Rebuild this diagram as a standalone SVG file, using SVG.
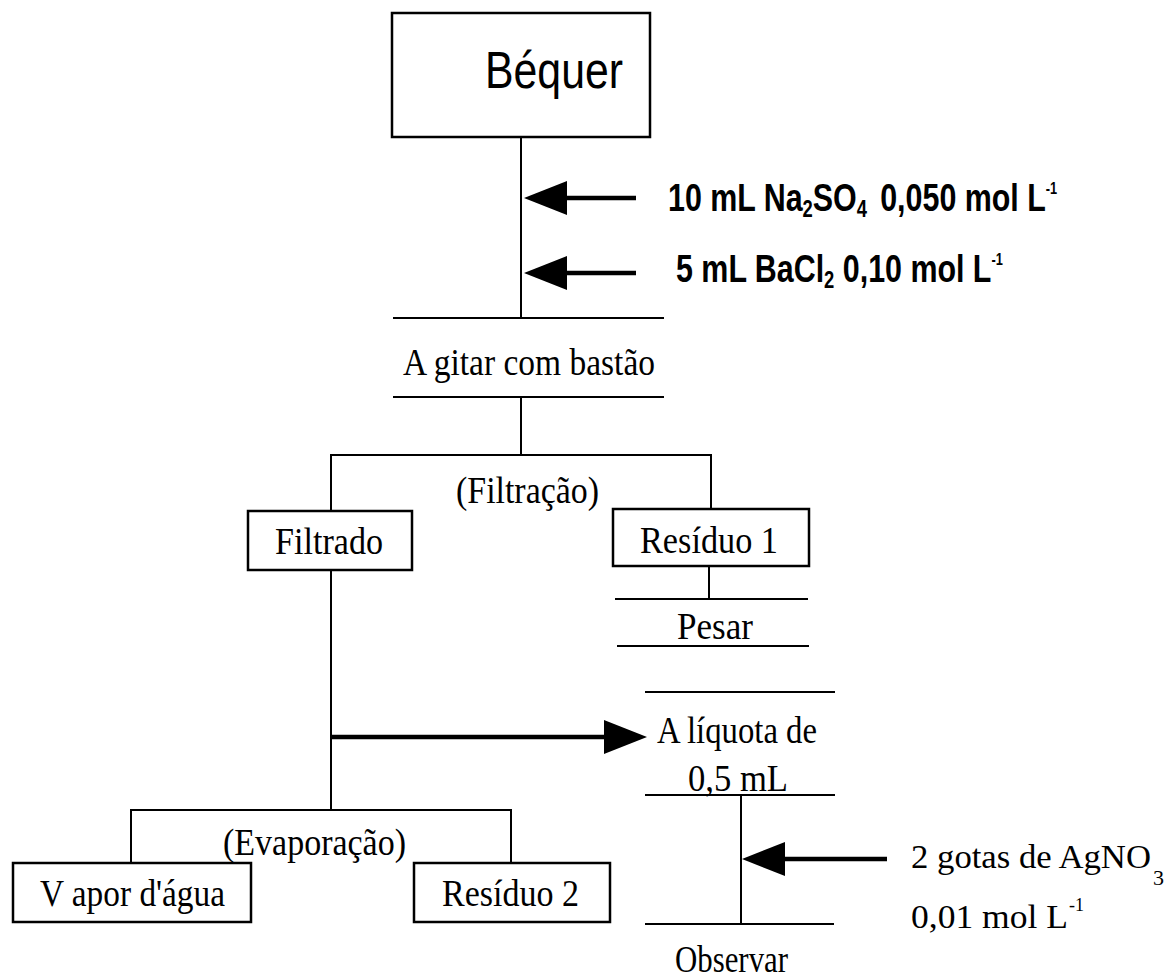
<svg xmlns="http://www.w3.org/2000/svg" width="1169" height="978" viewBox="0 0 1169 978">
<defs>
<style>
.box{fill:#fff;stroke:#000;stroke-width:2.5}
.ln{stroke:#000;stroke-width:2;fill:none}
.shaft{stroke:#000;stroke-width:4.5;fill:none}
.tm{font-family:"Liberation Serif","Times New Roman",serif;font-size:38px;fill:#000}
.ar{font-family:"Liberation Sans",Arial,sans-serif;font-size:52px;fill:#000}
.arb{font-family:"Liberation Sans",Arial,sans-serif;font-weight:bold;font-size:38px;fill:#000}
</style>
<path id="headL" d="M0,0 L43,-17 L43,17 Z" fill="#000"/>
</defs>
<rect width="1169" height="978" fill="#fff"/>

<g id="connectors">
<path class="ln" d="M521,137 V318"/>
<path class="ln" d="M521,397 V455"/>
<path class="ln" d="M331,511 V455 H711 V509"/>
<path class="ln" d="M331,553 V810"/>
<path class="ln" d="M131,863 V810 H511 V863"/>
<path class="ln" d="M709,553 V599"/>
<path class="ln" d="M741,795 V924"/>
<path class="shaft" d="M560,198 H636"/>
<use href="#headL" transform="translate(524,198)"/>
<path class="shaft" d="M560,273 H636"/>
<use href="#headL" transform="translate(524,273)"/>
<path class="shaft" d="M332,737 H610"/>
<use href="#headL" transform="translate(647,737) rotate(180)"/>
<path class="shaft" d="M780,859 H887"/>
<use href="#headL" transform="translate(742,859)"/>
</g>

<g id="node-bequer">
<rect class="box" x="392" y="13" width="258" height="124"/>
<text class="ar" x="485" y="88" textLength="138" lengthAdjust="spacingAndGlyphs">Béquer</text>
</g>

<g id="label-na2so4">
<text class="arb" transform="translate(668,211) scale(0.8,1)">10 mL Na<tspan font-size="23" dy="6">2</tspan><tspan dy="-6">SO</tspan><tspan font-size="23" dy="6">4</tspan><tspan dx="6" dy="-6"> 0,050 mol L</tspan><tspan font-size="16" dy="-17">-1</tspan></text>
</g>

<g id="label-bacl2">
<text class="arb" transform="translate(676,282) scale(0.8,1)">5 mL BaCl<tspan font-size="23" dy="6">2</tspan><tspan dy="-6"> 0,10 mol L</tspan><tspan font-size="16" dy="-17">-1</tspan></text>
</g>

<g id="node-agitar">
<path class="ln" d="M393,318 H664 M393,397 H664"/>
<text class="tm" x="403" y="375" textLength="252" lengthAdjust="spacingAndGlyphs">A gitar com bastão</text>
</g>

<g id="label-filtracao">
<text class="tm" x="456" y="503" textLength="143" lengthAdjust="spacingAndGlyphs">(Filtração)</text>
</g>

<g id="node-filtrado">
<rect class="box" x="248" y="511" width="164" height="59"/>
<text class="tm" x="275" y="554" textLength="108" lengthAdjust="spacingAndGlyphs">Filtrado</text>
</g>

<g id="node-residuo1">
<rect class="box" x="613" y="509" width="196" height="57"/>
<text class="tm" x="640" y="553" textLength="138" lengthAdjust="spacingAndGlyphs">Resíduo 1</text>
</g>

<g id="node-pesar">
<path class="ln" d="M615,599 H808 M617,646 H809"/>
<text class="tm" x="677" y="639" textLength="76" lengthAdjust="spacingAndGlyphs">Pesar</text>
</g>

<g id="node-aliquota">
<path class="ln" d="M645,692 H835 M645,795 H835"/>
<text class="tm" x="657" y="743" textLength="160" lengthAdjust="spacingAndGlyphs">A líquota de</text>
<text class="tm" x="688" y="791" textLength="100" lengthAdjust="spacingAndGlyphs">0,5 mL</text>
</g>

<g id="node-observar">
<path class="ln" d="M645,924 H834"/>
<text class="tm" x="675" y="972" textLength="113" lengthAdjust="spacingAndGlyphs">Observar</text>
</g>

<g id="label-agno3">
<text class="tm" x="911" y="868" style="font-size:34px" textLength="240" lengthAdjust="spacingAndGlyphs">2 gotas de AgNO</text>
<text class="tm" x="1153" y="885" style="font-size:22px">3</text>
<text class="tm" x="911" y="928" style="font-size:34px" textLength="157" lengthAdjust="spacingAndGlyphs">0,01 mol L</text>
<text class="tm" x="1069" y="911" style="font-size:18px">-1</text>
</g>

<g id="label-evaporacao">
<text class="tm" x="223" y="855" textLength="183" lengthAdjust="spacingAndGlyphs">(Evaporação)</text>
</g>

<g id="node-vapor">
<rect class="box" x="13" y="863" width="238" height="59"/>
<text class="tm" x="40" y="906" textLength="185" lengthAdjust="spacingAndGlyphs">V apor d'água</text>
</g>

<g id="node-residuo2">
<rect class="box" x="414" y="863" width="196" height="59"/>
<text class="tm" x="442" y="906" textLength="137" lengthAdjust="spacingAndGlyphs">Resíduo 2</text>
</g>
</svg>
